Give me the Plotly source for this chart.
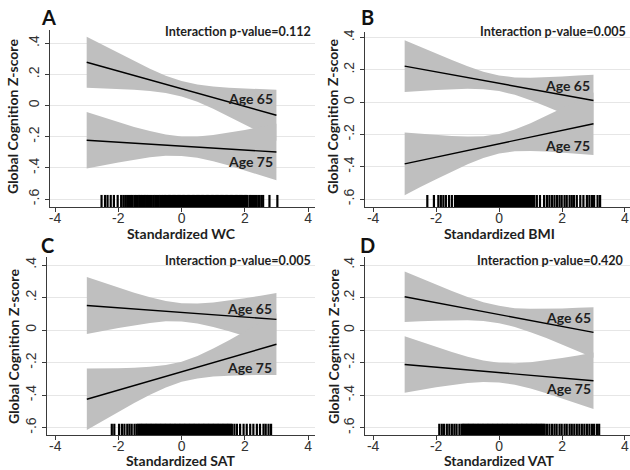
import plotly.graph_objects as go

# ---------------- data ----------------
band_x = [-3, -2.5, -2, -1.5, -1, -0.5, 0, 0.5, 1, 1.5, 2, 2.5, 3]
line_x = [-3, 3]

panels = ["A", "B", "C", "D"]
x_titles = ["Standardized WC", "Standardized BMI", "Standardized SAT", "Standardized VAT"]
p_values = ["0.112", "0.005", "0.005", "0.420"]

# Age 65 fitted lines (at x=-3 and x=3)
line65 = {
    "A": [0.278, -0.062],
    "B": [0.223, 0.010],
    "C": [0.151, 0.066],
    "D": [0.205, -0.014],
}
# Age 75 fitted lines
line75 = {
    "A": [-0.223, -0.298],
    "B": [-0.382, -0.134],
    "C": [-0.425, -0.087],
    "D": [-0.211, -0.311],
}
# Confidence bands, Age 65
upper65 = {
    "A": [0.441, 0.389, 0.337, 0.285, 0.237, 0.192, 0.158, 0.136, 0.123, 0.115, 0.109, 0.105, 0.101],
    "B": [0.383, 0.341, 0.300, 0.260, 0.222, 0.188, 0.165, 0.153, 0.151, 0.153, 0.158, 0.164, 0.170],
    "C": [0.326, 0.293, 0.261, 0.230, 0.202, 0.178, 0.165, 0.163, 0.170, 0.181, 0.196, 0.211, 0.228],
    "D": [0.360, 0.320, 0.279, 0.240, 0.204, 0.172, 0.149, 0.135, 0.131, 0.131, 0.133, 0.137, 0.141],
}
lower65 = {
    "A": [0.115, 0.111, 0.107, 0.101, 0.093, 0.080, 0.058, 0.024, -0.021, -0.069, -0.121, -0.173, -0.225],
    "B": [0.063, 0.069, 0.075, 0.080, 0.082, 0.080, 0.069, 0.045, 0.011, -0.027, -0.067, -0.108, -0.150],
    "C": [-0.024, -0.005, 0.013, 0.030, 0.044, 0.054, 0.053, 0.040, 0.019, -0.007, -0.036, -0.065, -0.096],
    "D": [0.050, 0.055, 0.058, 0.060, 0.060, 0.056, 0.043, 0.019, -0.013, -0.049, -0.088, -0.129, -0.169],
}
# Confidence bands, Age 75
upper75 = {
    "A": [-0.042, -0.074, -0.107, -0.137, -0.164, -0.186, -0.199, -0.199, -0.189, -0.174, -0.157, -0.137, -0.117],
    "B": [-0.188, -0.196, -0.204, -0.210, -0.213, -0.211, -0.198, -0.170, -0.131, -0.086, -0.038, 0.010, 0.060],
    "C": [-0.236, -0.236, -0.235, -0.231, -0.226, -0.215, -0.194, -0.159, -0.114, -0.063, -0.009, 0.046, 0.102],
    "D": [-0.038, -0.071, -0.105, -0.135, -0.163, -0.187, -0.201, -0.203, -0.197, -0.185, -0.171, -0.155, -0.138],
}
lower75 = {
    "A": [-0.404, -0.384, -0.366, -0.347, -0.332, -0.322, -0.323, -0.335, -0.357, -0.385, -0.416, -0.447, -0.479],
    "B": [-0.576, -0.526, -0.478, -0.430, -0.385, -0.346, -0.318, -0.304, -0.303, -0.306, -0.312, -0.320, -0.328],
    "C": [-0.614, -0.558, -0.503, -0.449, -0.398, -0.353, -0.318, -0.297, -0.286, -0.281, -0.277, -0.276, -0.276],
    "D": [-0.384, -0.367, -0.351, -0.337, -0.325, -0.319, -0.321, -0.335, -0.359, -0.387, -0.417, -0.451, -0.484],
}

# Rug plot observations (x values)
rug = {
    "A": [-2.53, -2.42, -2.34, -2.24, -2.14, -2.02, -1.91, -1.84, -1.78, -1.72, -1.66, -1.60, -1.55,
          -1.49, -1.44, -1.39, -1.34, -1.30, -1.25, -1.20, -1.16, -1.11, -1.06, -1.00, -0.94, -0.88,
          -0.83, -0.78, -0.72, -0.67, -0.62, -0.57, -0.52, -0.48,
          -0.44, -0.40, -0.36, -0.32, -0.28, -0.24, -0.20, -0.16, -0.12, -0.08, -0.04, 0.00, 0.04,
          0.08, 0.12, 0.16, 0.20, 0.24, 0.28, 0.32, 0.36, 0.40, 0.44, 0.48, 0.52, 0.56, 0.60, 0.64,
          0.68, 0.72, 0.76, 0.80, 0.84, 0.88, 0.92, 0.96, 1.00, 1.04, 1.08, 1.12, 1.16, 1.20, 1.24,
          1.28, 1.32, 1.36, 1.40, 1.44, 1.48, 1.52, 1.56, 1.60, 1.64, 1.68, 1.72, 1.76, 1.80, 1.84,
          1.88, 1.92, 1.96, 2.00, 2.04, 2.08,
          2.15, 2.20, 2.26, 2.32, 2.38, 2.45, 2.52, 2.58, 2.78, 3.03],
    "B": [-2.28, -2.07, -1.93, -1.85, -1.77, -1.69, -1.59, -1.50,
          -1.40, -1.36, -1.32, -1.28, -1.24, -1.20, -1.16, -1.12, -1.08, -1.04, -1.00, -0.96, -0.92,
          -0.88, -0.84, -0.80, -0.76, -0.72, -0.68, -0.64, -0.60, -0.56, -0.52, -0.48, -0.44, -0.40,
          -0.36, -0.32, -0.28, -0.24, -0.20, -0.16, -0.12, -0.08, -0.04, 0.00, 0.04, 0.08, 0.12,
          0.16, 0.20, 0.24, 0.28, 0.32, 0.36, 0.40, 0.44, 0.48, 0.52, 0.56, 0.60, 0.64, 0.68, 0.72,
          0.76, 0.80, 0.84, 0.88, 0.92, 0.96, 1.00, 1.04, 1.08, 1.12,
          1.20, 1.30, 1.43, 1.52, 1.60, 1.68, 1.76, 1.84, 1.92, 1.99, 2.08, 2.15, 2.24, 2.31, 2.38,
          2.47, 2.58, 2.68, 2.79, 2.87, 2.95, 3.02, 3.13, 3.21],
    "C": [-2.21, -2.13, -1.98, -1.89, -1.81, -1.72, -1.65, -1.58, -1.49, -1.42,
          -1.37, -1.33, -1.29, -1.25, -1.21, -1.17, -1.13, -1.09, -1.05, -1.01, -0.97, -0.93, -0.89,
          -0.85, -0.81, -0.77, -0.73, -0.69, -0.65, -0.61, -0.57, -0.53, -0.49, -0.45, -0.41, -0.37,
          -0.33, -0.29, -0.25, -0.21, -0.17, -0.13, -0.09, -0.05, -0.01, 0.03, 0.07, 0.11, 0.15,
          0.19, 0.23, 0.27, 0.31, 0.35, 0.39, 0.43, 0.47, 0.51, 0.55, 0.59, 0.63, 0.67, 0.71, 0.75,
          0.79, 0.83, 0.87, 0.91, 0.95, 0.99, 1.03, 1.07, 1.11, 1.15, 1.19, 1.23, 1.27, 1.31, 1.35,
          1.39, 1.43, 1.47, 1.51, 1.55, 1.59,
          1.67, 1.75, 1.85, 1.96, 2.06, 2.17, 2.27, 2.38, 2.48, 2.59, 2.66, 2.75, 2.83],
    "D": [-1.90, -1.82, -1.75, -1.66, -1.58, -1.50, -1.42, -1.35, -1.26,
          -1.19, -1.15, -1.11, -1.07, -1.03, -0.99, -0.95, -0.91, -0.87, -0.83, -0.79, -0.75, -0.71,
          -0.67, -0.63, -0.59, -0.55, -0.51, -0.47, -0.43, -0.39, -0.35, -0.31, -0.27, -0.23, -0.19,
          -0.15, -0.11, -0.07, -0.03, 0.01, 0.05, 0.09, 0.13, 0.17, 0.21, 0.25, 0.29, 0.33, 0.37,
          0.41, 0.45, 0.49, 0.53, 0.57, 0.61, 0.65, 0.69, 0.73, 0.77, 0.81, 0.85, 0.89, 0.93, 0.97,
          1.01, 1.05, 1.09, 1.13, 1.17, 1.21, 1.25, 1.29, 1.33, 1.37, 1.41, 1.45,
          1.52, 1.60, 1.68, 1.76, 1.83, 1.92, 1.99, 2.08, 2.15, 2.24, 2.31, 2.39, 2.47, 2.55, 2.63,
          2.71, 2.79, 2.87, 2.95, 3.02, 3.11, 3.18],
}

x_tickvals = [-4, -2, 0, 2, 4]
x_ticktext = ["-4", "-2", "0", "2", "4"]
y_tickvals = [0.4, 0.2, 0, -0.2, -0.4, -0.6]
y_ticktext = [".4", ".2", "0", "-.2", "-.4", "-.6"]

# ---------------- layout geometry (pixels of a 630x470 canvas) ----------------
W, H = 630, 470
def px(x):
    return x / W
def py(y):
    return 1 - y / H

x_domains = {"A": [px(50), px(315)], "B": [px(365), 1.0], "C": [px(47), px(315)], "D": [px(365), 1.0]}
y_domains = {"A": [py(207), py(30)], "B": [py(207.3), py(31.5)], "C": [py(435), py(256.7)], "D": [py(435), py(256.7)]}
x_ranges = {"A": [-4.16, 4.22], "B": [-4.26, 4.16], "C": [-4.26, 4.22], "D": [-4.26, 4.16]}
y_ranges = {"A": [-0.651, 0.485], "B": [-0.651, 0.437], "C": [-0.645, 0.451], "D": [-0.644, 0.451]}

# text anchors
letter_pos = {"A": (39, 17), "B": (359, 17), "C": (39, 245), "D": (358, 245)}
pval_pos = {"A": (313, 32), "B": (628, 31.5), "C": (313, 260), "D": (625, 260)}
xtitle_pos = {"A": (181, 233), "B": (499, 233), "C": (181, 460), "D": (499, 460)}
ytitle_pos = {"A": (13, 117), "B": (333, 117), "C": (13, 347), "D": (333, 347)}
age_x = {"A": 2.96, "B": 2.95, "C": 2.91, "D": 2.98}
age65_y = {"A": 0.045, "B": 0.104, "C": 0.131, "D": 0.080}
age75_y = {"A": -0.360, "B": -0.268, "C": -0.227, "D": -0.360}

BAND = "#bfbfbf"
TITLE_FONT = "Lato"
TICK_FONT = "Liberation Sans"
TXT = "#1e1e1e"

fig = go.Figure()
annotations = []

for i, p in enumerate(panels):
    sfx = "" if i == 0 else str(i + 1)
    xa, ya = "x" + sfx, "y" + sfx

    for up, lo in ((upper65[p], lower65[p]), (upper75[p], lower75[p])):
        fig.add_trace(go.Scatter(
            x=band_x + band_x[::-1], y=up + lo[::-1], fill="toself",
            fillcolor=BAND, line=dict(width=0), mode="lines",
            hoverinfo="skip", showlegend=False, xaxis=xa, yaxis=ya))
    for ln in (line65[p], line75[p]):
        fig.add_trace(go.Scatter(
            x=line_x, y=ln, mode="lines", line=dict(color="black", width=1.4),
            showlegend=False, xaxis=xa, yaxis=ya))
    fig.add_trace(go.Scatter(
        x=rug[p], y=[-0.614] * len(rug[p]), mode="markers",
        marker=dict(symbol="line-ns-open", size=9, color="black",
                    line=dict(color="black", width=2.2)),
        showlegend=False, xaxis=xa, yaxis=ya))

    ax = dict(domain=x_domains[p], range=x_ranges[p], tickvals=x_tickvals, ticktext=x_ticktext,
              showgrid=False, zeroline=False, showline=True, linecolor="#3a3a3a", linewidth=1,
              ticks="outside", ticklen=4, tickcolor="#3a3a3a", automargin=False,
              ticklabelstandoff=-6,
              tickfont=dict(family=TICK_FONT, size=14, color="#333"), anchor=ya)
    ay = dict(domain=y_domains[p], range=y_ranges[p], tickvals=y_tickvals, ticktext=y_ticktext,
              tickangle=-90, showgrid=True, gridcolor="#e6e6e6", gridwidth=1, zeroline=False,
              showline=True, linecolor="#3a3a3a", linewidth=1, automargin=False,
              ticks="outside", ticklen=4, tickcolor="#3a3a3a",
              tickfont=dict(family=TICK_FONT, size=14, color="#333"), anchor=xa)
    fig.layout["xaxis" + sfx] = ax
    fig.layout["yaxis" + sfx] = ay

    lx, ly = letter_pos[p]
    annotations.append(dict(text="<b>%s</b>" % p, xref="paper", yref="paper",
                            x=px(lx), y=py(ly), xanchor="left", yanchor="middle",
                            showarrow=False, font=dict(family=TITLE_FONT, size=20, color="#111")))
    vx, vy = pval_pos[p]
    annotations.append(dict(text="<b>Interaction p-value=%s</b>" % p_values[i],
                            xref="paper", yref="paper", x=px(vx), y=py(vy),
                            xanchor="right", yanchor="middle", showarrow=False,
                            font=dict(family=TITLE_FONT, size=12.6, color=TXT)))
    tx, ty = xtitle_pos[p]
    annotations.append(dict(text="<b>%s</b>" % x_titles[i], xref="paper", yref="paper",
                            x=px(tx), y=py(ty), xanchor="center", yanchor="middle",
                            showarrow=False, font=dict(family=TITLE_FONT, size=14, color=TXT)))
    gx, gy = ytitle_pos[p]
    annotations.append(dict(text="<b>Global Cognition Z-score</b>", xref="paper", yref="paper",
                            x=px(gx), y=py(gy), xanchor="center", yanchor="middle",
                            textangle=-90, showarrow=False,
                            font=dict(family=TITLE_FONT, size=14, color=TXT)))
    annotations.append(dict(text="<b>Age 65</b>", xref=xa, yref=ya, x=age_x[p], y=age65_y[p],
                            xanchor="right", yanchor="middle", showarrow=False,
                            font=dict(family=TITLE_FONT, size=14, color=TXT)))
    annotations.append(dict(text="<b>Age 75</b>", xref=xa, yref=ya, x=age_x[p], y=age75_y[p],
                            xanchor="right", yanchor="middle", showarrow=False,
                            font=dict(family=TITLE_FONT, size=14, color=TXT)))

fig.update_layout(width=W, height=H, margin=dict(l=0, r=0, t=0, b=0, autoexpand=False),
                  plot_bgcolor="white", paper_bgcolor="white", annotations=annotations,
                  font=dict(family=TITLE_FONT))

fig.write_html("out.html", config={"displayModeBar": False},
               post_script="document.body.style.margin='0';document.body.style.padding='0';")
